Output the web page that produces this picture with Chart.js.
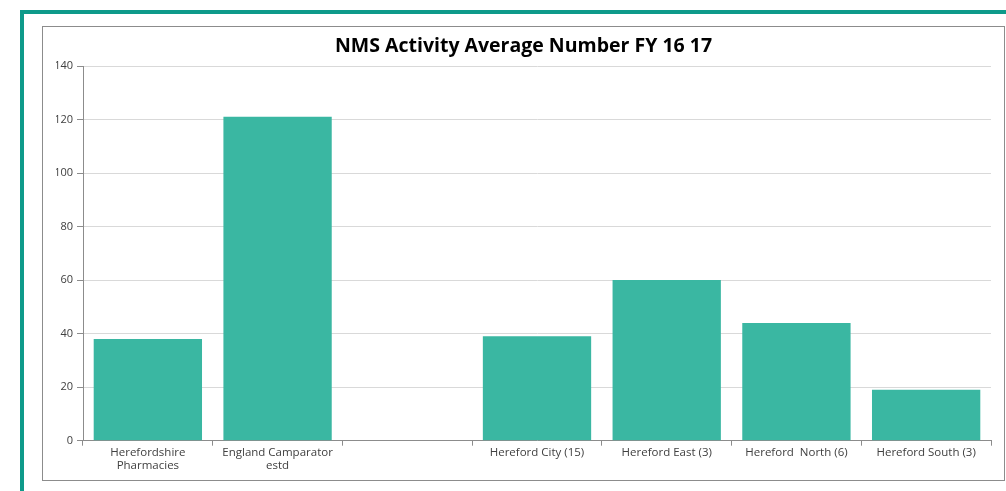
<!DOCTYPE html>
<html>
<head>
<meta charset="utf-8">
<script src="https://cdn.jsdelivr.net/npm/chart.js@4.4.1/dist/chart.umd.min.js"></script>
<style>
  html, body { margin: 0; padding: 0; background: #ffffff; width: 1006px; height: 491px; overflow: hidden; }
  #frame { position: absolute; left: 20px; top: 10px; width: 1000px; height: 500px; border: 4px solid #0E9A8A; box-sizing: border-box; }
  #box { position: absolute; left: 42px; top: 26px; width: 963px; height: 455px; border: 1px solid #8C8C8C; box-sizing: border-box; background: #fff; }
  #c { position: absolute; left: 0; top: 0; }
</style>
</head>
<body>
<div id="frame"></div>
<div id="box"><canvas id="c" width="961" height="453"></canvas></div>
<script>
const title = "NMS Activity Average Number FY 16 17";
const categories = [["Herefordshire", "Pharmacies"], ["England Camparator", "estd"], "", "Hereford City (15)", "Hereford East (3)", "Hereford  North (6)", "Hereford South (3)"];
const values = [38, 121, null, 39, 60, 44, 19];
const yTicks = [0, 20, 40, 60, 80, 100, 120, 140];

new Chart(document.getElementById('c'), {
  type: 'bar',
  data: {
    labels: categories,
    datasets: [{
      data: values,
      backgroundColor: '#3AB7A2',
      borderWidth: 0,
      categoryPercentage: 1.0,
      barPercentage: 0.835
    }]
  },
  options: {
    responsive: false,
    animation: false,
    layout: { padding: { left: 13, right: 13, top: 4, bottom: 7 } },
    plugins: {
      legend: { display: false },
      tooltip: { enabled: false },
      title: {
        display: true,
        text: title,
        color: '#000000',
        font: { family: 'Open Sans', size: 19.5, weight: 'bold', lineHeight: 1.2 },
        padding: { top: 4, bottom: 7.6 }
      }
    },
    scales: {
      x: {
        grid: { display: true, drawOnChartArea: false, drawTicks: true, tickLength: 5, color: '#8C8C8C', offset: true },
        border: { color: '#8C8C8C' },
        ticks: { color: '#404040', font: { family: 'Open Sans', size: 11.5, lineHeight: 1.1 }, maxRotation: 0, autoSkip: false, padding: 1 }
      },
      y: {
        min: 0, max: 140,
        afterBuildTicks: (s) => { s.ticks = yTicks.map(v => ({ value: v })); },
        afterFit: (s) => { s.width = 27; },
        grid: { color: '#D9D9D9', tickLength: 6, tickColor: '#8C8C8C' },
        border: { color: '#8C8C8C' },
        ticks: { color: '#404040', font: { family: 'Open Sans', size: 11 }, padding: 4 }
      }
    }
  }
});
</script>
</body>
</html>
